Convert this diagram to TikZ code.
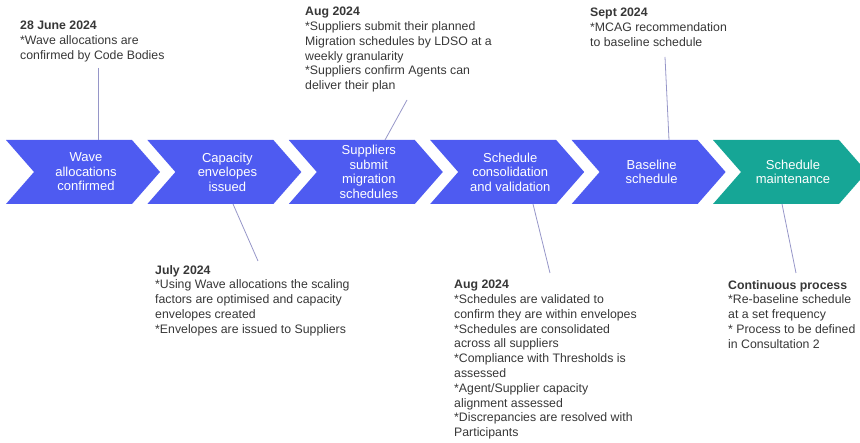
\documentclass[tikz,border=0pt]{standalone}
\usepackage{fontspec}
\setmainfont{Liberation Sans}
\definecolor{chevblue}{RGB}{78,91,241}
\definecolor{chevteal}{RGB}{22,166,150}
\definecolor{linkc}{RGB}{150,150,200}
\definecolor{txt}{RGB}{55,55,55}
\begin{document}
\begin{tikzpicture}[x=1pt,y=-1pt,
  chevron/.pic={\fill[#1] (0,0) -- (126,0) -- (154,32) -- (126,64) -- (0,64) -- (28,32) -- cycle;},
  chevtext/.style={text=white, font=\fontsize{13}{14.5}\selectfont, align=center, inner sep=0pt},
  annot/.style={text=txt, font=\fontsize{12.3}{14.8}\selectfont, align=left, anchor=north west, inner sep=0pt,
    execute at begin node={\rule{0pt}{10pt}}},
  link/.style={draw=linkc, line width=0.8pt}]
\useasboundingbox (0,0) rectangle (860,443);
\clip (0,0) rectangle (860,443);
% chevrons
\pic at (6,140) {chevron=chevblue};
\pic at (147.4,140) {chevron=chevblue};
\pic at (288.8,140) {chevron=chevblue};
\pic at (430.2,140) {chevron=chevblue};
\pic at (571.6,140) {chevron=chevblue};
\pic at (713,140) {chevron=chevteal};
\node[chevtext] (c1) at (86,172) {Wave\\allocations\\confirmed};
\node[chevtext] (c2) at (227.4,172) {Capacity\\envelopes\\issued};
\node[chevtext] (c3) at (368.8,172) {Suppliers\\submit\\migration\\schedules};
\node[chevtext] (c4) at (510.2,172) {Schedule\\consolidation\\and validation};
\node[chevtext] (c5) at (651.6,172) {Baseline\\schedule};
\node[chevtext] (c6) at (793,172) {Schedule\\maintenance};
% annotations
\node[annot] (a1) at (20,21) {\textbf{28 June 2024}\\*Wave allocations are\\confirmed by Code Bodies};
\node[annot] (a2) at (305,7) {\textbf{Aug 2024}\\*Suppliers submit their planned\\Migration schedules by LDSO at a\\weekly granularity\\*Suppliers confirm Agents can\\deliver their plan};
\node[annot] (a3) at (590,8) {\textbf{Sept 2024}\\*MCAG recommendation\\to baseline schedule};
\node[annot] (a4) at (155,265) {\textbf{July 2024}\\*Using Wave allocations the scaling\\factors are optimised and capacity\\envelopes created\\*Envelopes are issued to Suppliers};
\node[annot] (a5) at (454,280) {\textbf{Aug 2024}\\*Schedules are validated to\\confirm they are within envelopes\\*Schedules are consolidated\\across all suppliers\\*Compliance with Thresholds is\\assessed\\*Agent/Supplier capacity\\alignment assessed\\*Discrepancies are resolved with\\Participants};
\node[annot] (a6) at (728,280) {\textbf{Continuous process}\\*Re-baseline schedule\\at a set frequency\\* Process to be defined\\in Consultation 2};
% connector end points
\coordinate (k1a) at (98,68);   \coordinate (k1b) at (98,140);
\coordinate (k2a) at (407,100); \coordinate (k2b) at (385,140);
\coordinate (k3a) at (665,57);  \coordinate (k3b) at (669,140);
\coordinate (k4a) at (258,261); \coordinate (k4b) at (233,204);
\coordinate (k5a) at (550,273); \coordinate (k5b) at (533,204);
\coordinate (k6a) at (796,273); \coordinate (k6b) at (782,204);
\draw[link] (k1a) -- (k1b);
\draw[link] (k2a) -- (k2b);
\draw[link] (k3a) -- (k3b);
\draw[link] (k4a) -- (k4b);
\draw[link] (k5a) -- (k5b);
\draw[link] (k6a) -- (k6b);
\end{tikzpicture}
\end{document}
